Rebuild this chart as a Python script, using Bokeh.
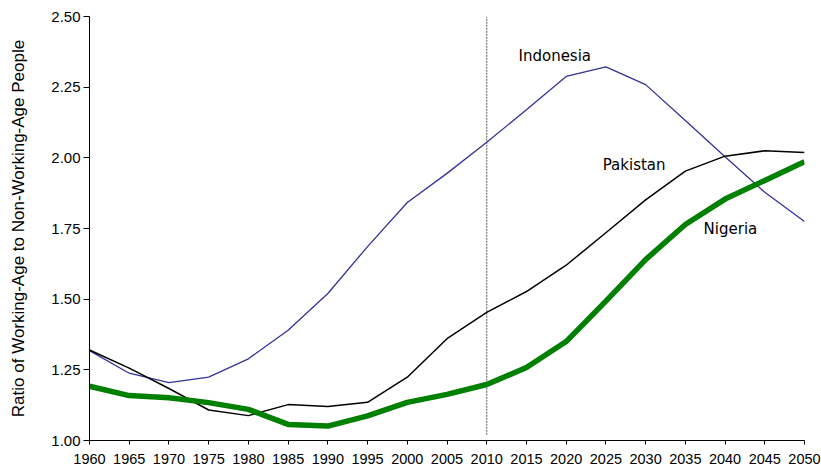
from bokeh.plotting import figure
from bokeh.models import ColumnDataSource, FixedTicker, NumeralTickFormatter, Label, Range1d
from bokeh.embed import file_html
from bokeh.resources import INLINE

years = [1960, 1965, 1970, 1975, 1980, 1985, 1990, 1995, 2000, 2005,
         2010, 2015, 2020, 2025, 2030, 2035, 2040, 2045, 2050]
indonesia = [1.318, 1.238, 1.205, 1.224, 1.289, 1.390, 1.520, 1.686, 1.842, 1.945,
             2.055, 2.170, 2.288, 2.322, 2.259, 2.132, 2.004, 1.878, 1.775]
pakistan = [1.320, 1.256, 1.184, 1.108, 1.088, 1.127, 1.120, 1.135, 1.224, 1.360,
            1.453, 1.527, 1.620, 1.735, 1.851, 1.953, 2.006, 2.025, 2.019]
nigeria = [1.192, 1.159, 1.151, 1.134, 1.110, 1.057, 1.051, 1.087, 1.135, 1.163,
           1.198, 1.258, 1.350, 1.493, 1.640, 1.764, 1.854, 1.920, 1.986]
y_ticks = [1.00, 1.25, 1.50, 1.75, 2.00, 2.25, 2.50]
divider_year = 2010

src = ColumnDataSource(dict(year=years, ind=indonesia, pak=pakistan, nig=nigeria))

p = figure(width=821, height=470, output_backend="svg", toolbar_location=None,
           x_range=Range1d(1960, 2050), y_range=Range1d(1.0, 2.5),
           min_border_left=89, min_border_right=17, min_border_top=16, min_border_bottom=30)
p.outline_line_color = None
p.xgrid.visible = False
p.ygrid.visible = False
p.background_fill_color = "white"

p.segment(x0=[divider_year], y0=[1.02], x1=[divider_year], y1=[2.5],
          line_color="#7f7f7f", line_width=1.3, line_dash="2 1")

p.line("year", "ind", source=src, line_color="#333399", line_width=1.3)
p.line("year", "pak", source=src, line_color="#000000", line_width=1.5)
p.line("year", "nig", source=src, line_color="#008000", line_width=5.5)

p.xaxis.ticker = FixedTicker(ticks=years)
p.yaxis.ticker = FixedTicker(ticks=y_ticks)
p.yaxis.formatter = NumeralTickFormatter(format="0.00")
for ax in (p.xaxis[0], p.yaxis[0]):
    ax.axis_line_color = "black"
    ax.major_tick_line_color = "black"
    ax.minor_tick_line_color = None
    ax.major_tick_in = 0
    ax.major_label_text_font = "Liberation Sans"
    ax.major_label_text_color = "black"
p.xaxis.major_label_text_font_size = "14.5px"
p.yaxis.major_label_text_font_size = "15px"
p.xaxis.major_tick_out = 4
p.xaxis.major_label_standoff = 9
p.yaxis.major_tick_out = 6
p.yaxis.major_label_standoff = 3
p.yaxis.axis_label = "Ratio of Working-Age to Non-Working-Age People"
p.yaxis.axis_label_text_font = "Liberation Sans"
p.yaxis.axis_label_text_font_size = "17px"
p.yaxis.axis_label_text_font_style = "normal"
p.yaxis.axis_label_text_color = "black"
p.yaxis.axis_label_standoff = 20

for txt, x, y in [("Indonesia", 2014.0, 2.362), ("Pakistan", 2024.6, 1.973), ("Nigeria", 2037.3, 1.75)]:
    p.add_layout(Label(x=x, y=y, text=txt, text_font="DejaVu Sans", text_font_size="15px",
                       text_color="black", text_baseline="middle", text_align="left"))

open("out.html", "w").write(file_html(p, INLINE))
